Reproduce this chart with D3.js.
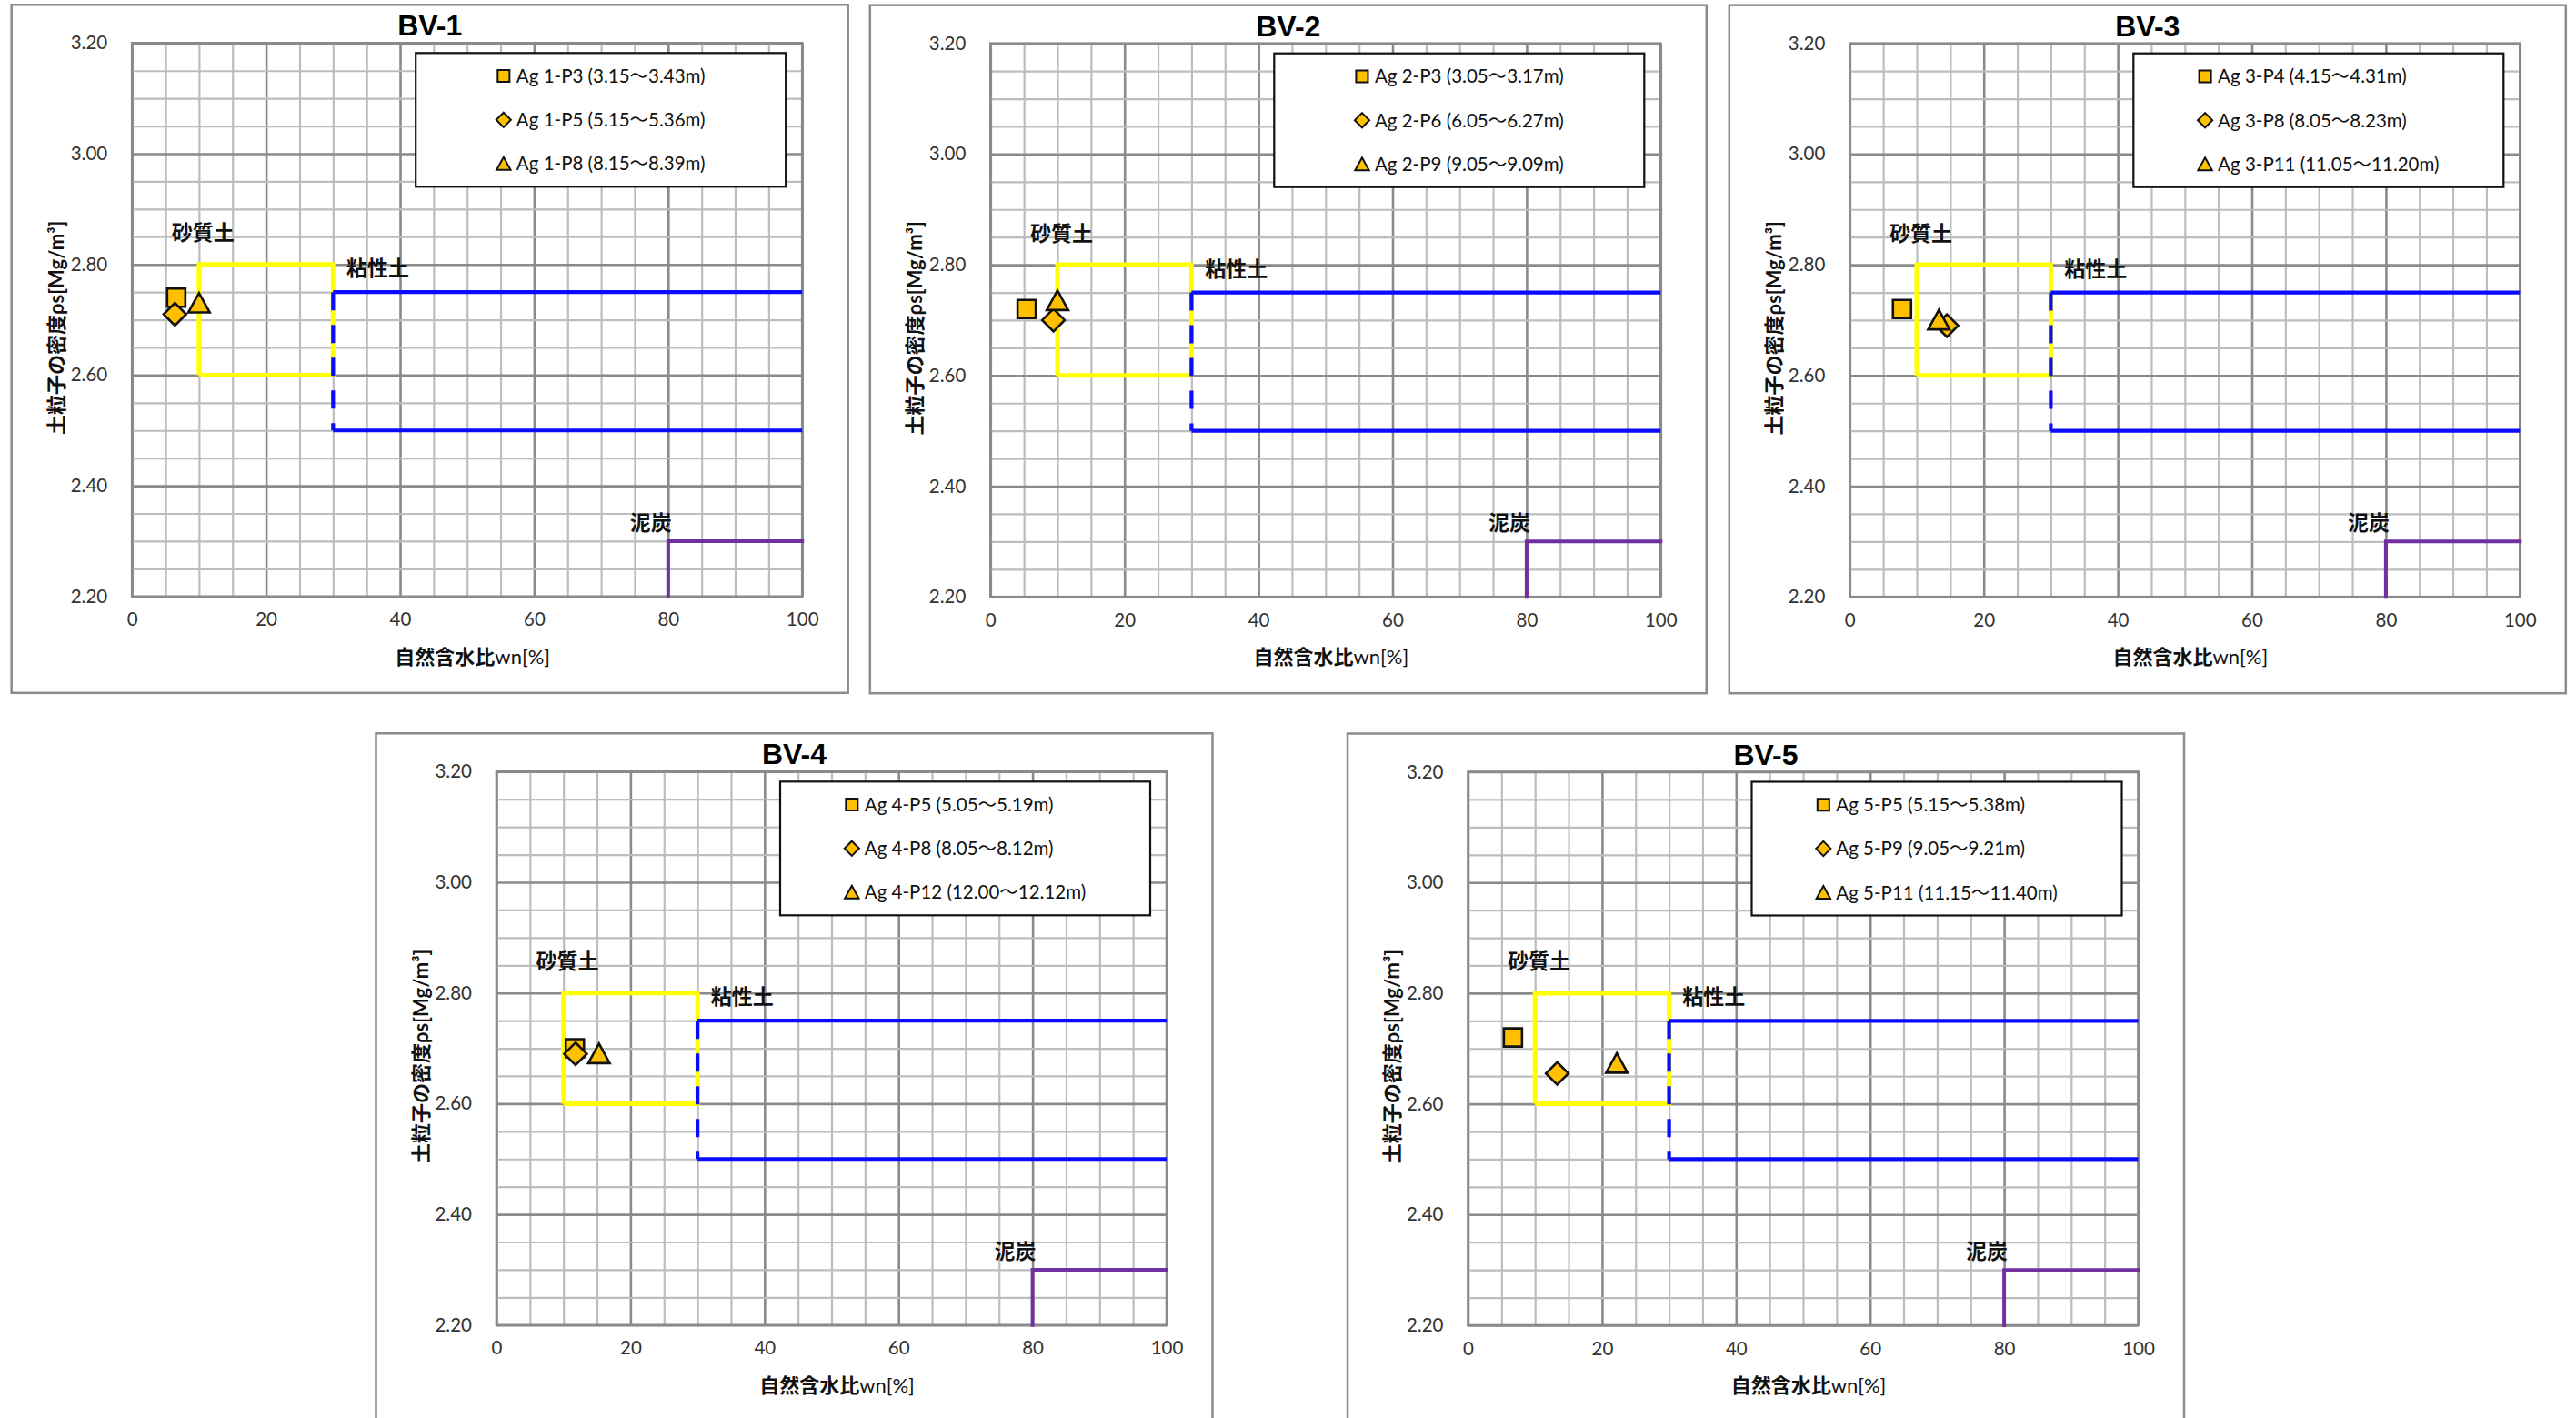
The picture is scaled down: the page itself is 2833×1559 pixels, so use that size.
<!DOCTYPE html>
<html>
<head>
<meta charset="utf-8">
<script src="https://cdn.jsdelivr.net/npm/d3@7/dist/d3.min.js"></script>
<style>
  body { margin: 0; background: #fff; }
  svg { display: block; }
</style>
</head>
<body>
<svg id="chart" width="2833" height="1559"></svg>
<script>
// ---- data ----------------------------------------------------------------
const panelTitles = ["BV-1", "BV-2", "BV-3", "BV-4", "BV-5"];

const sampleNames = [
  ["Ag 1-P3 (3.15〜3.43m)", "Ag 1-P5 (5.15〜5.36m)", "Ag 1-P8 (8.15〜8.39m)"],
  ["Ag 2-P3 (3.05〜3.17m)", "Ag 2-P6 (6.05〜6.27m)", "Ag 2-P9 (9.05〜9.09m)"],
  ["Ag 3-P4 (4.15〜4.31m)", "Ag 3-P8 (8.05〜8.23m)", "Ag 3-P11 (11.05〜11.20m)"],
  ["Ag 4-P5 (5.05〜5.19m)", "Ag 4-P8 (8.05〜8.12m)", "Ag 4-P12 (12.00〜12.12m)"],
  ["Ag 5-P5 (5.15〜5.38m)", "Ag 5-P9 (9.05〜9.21m)", "Ag 5-P11 (11.15〜11.40m)"]
];

// natural water content wn [%] per sample (square, diamond, triangle)
const waterContent = [
  [6.6, 6.4, 10.0],
  [5.4, 9.4, 10.0],
  [7.8, 14.5, 13.3],
  [11.7, 11.8, 15.3],
  [6.7, 13.3, 22.2]
];

// soil particle density ρs [Mg/m³] per sample
const particleDensity = [
  [2.74, 2.71, 2.73],
  [2.72, 2.70, 2.735],
  [2.72, 2.69, 2.70],
  [2.70, 2.69, 2.69],
  [2.72, 2.655, 2.673]
];

// classification boundaries
const sandZone   = [[10, 2.60], [10, 2.80], [30, 2.80], [30, 2.60], [10, 2.60]];
const clayUpper  = [[30, 2.75], [100, 2.75]];
const clayLower  = [[30, 2.50], [100, 2.50]];
const clayEdge   = [[30, 2.75], [30, 2.50]];
const peatZone   = [[80, 2.20], [80, 2.30], [100, 2.30]];

const zoneLabels = [
  { text: "砂質土", x: 10.6, y: 2.857, anchor: "middle" },
  { text: "粘性土", x: 32.0, y: 2.793, anchor: "start" },
  { text: "泥炭",   x: 74.3, y: 2.334, anchor: "start" }
];

const xTicks = [0, 20, 40, 60, 80, 100];
const yTicks = [2.20, 2.40, 2.60, 2.80, 3.00, 3.20];

// ---- layout --------------------------------------------------------------
const plotW = 737, plotH = 608.5;
const panelOrigins = [
  [145.2, 47.3], [1089.3, 47.7], [2034.3, 47.7],
  [546.0, 848.3], [1614.5, 848.5]
];

const markerFill = "#FFC000";
const gridMinor = "#bdbdbd", gridMajor = "#8a8a8a";
const latin = "Lato, 'Noto Sans', 'Noto Sans CJK JP', sans-serif";
const cjk = "'Noto Sans CJK JP', 'Noto Sans', sans-serif";

// marker shapes in the style of spreadsheet scatter markers
const squareType = { draw(ctx, size) { const s = Math.sqrt(size) / 2; ctx.rect(-s, -s, 2 * s, 2 * s); } };
const diamondType = { draw(ctx, size) { const s = Math.sqrt(size) * 0.62; ctx.moveTo(0, -s); ctx.lineTo(s, 0); ctx.lineTo(0, s); ctx.lineTo(-s, 0); ctx.closePath(); } };
const triangleType = { draw(ctx, size) { const s = Math.sqrt(size) / 2; ctx.moveTo(0, -1.12 * s); ctx.lineTo(s * 1.18, s * 1.02); ctx.lineTo(-s * 1.18, s * 1.02); ctx.closePath(); } };
const markerTypes = [squareType, diamondType, triangleType];

const svg = d3.select("#chart");
svg.append("rect").attr("width", 2833).attr("height", 1559).attr("fill", "#fff");

panelTitles.forEach((title, p) => {
  const [ox, oy] = panelOrigins[p];
  const x = d3.scaleLinear().domain([0, 100]).range([0, plotW]);
  const y = d3.scaleLinear().domain([2.2, 3.2]).range([plotH, 0]);

  // chart frame
  svg.append("rect")
    .attr("x", ox - 132.5).attr("y", oy - 42)
    .attr("width", 920).attr("height", 756.5)
    .attr("fill", "#fff").attr("stroke", "#8c8c8c").attr("stroke-width", 2.5);

  const g = svg.append("g").attr("transform", `translate(${ox},${oy})`);

  // title
  svg.append("text")
    .attr("x", ox - 132.5 + 460).attr("y", oy - 8)
    .attr("text-anchor", "middle")
    .attr("font-family", "'Liberation Sans', Arial, sans-serif")
    .attr("font-weight", "bold").attr("font-size", 32)
    .text(title);

  // grid lines
  const vGrid = g.append("g").attr("transform", `translate(0,${plotH})`)
    .call(d3.axisBottom(x).tickValues(d3.range(0, 101, 5)).tickSize(-plotH).tickFormat(""));
  vGrid.select(".domain").remove();
  vGrid.selectAll(".tick line")
    .attr("stroke", d => d % 20 === 0 ? gridMajor : gridMinor)
    .attr("stroke-width", d => d % 20 === 0 ? 2.6 : 2.2);

  const hGrid = g.append("g")
    .call(d3.axisLeft(y).tickValues(d3.range(0, 21).map(i => 2.2 + i * 0.05)).tickSize(-plotW).tickFormat(""));
  hGrid.select(".domain").remove();
  hGrid.selectAll(".tick line")
    .attr("stroke", d => Math.round(d * 100) % 20 === 0 ? gridMajor : gridMinor)
    .attr("stroke-width", d => Math.round(d * 100) % 20 === 0 ? 2.6 : 2.2);

  g.append("rect").attr("width", plotW).attr("height", plotH)
    .attr("fill", "none").attr("stroke", gridMajor).attr("stroke-width", 2.6);

  // tick labels
  const xAxis = g.append("g").attr("transform", `translate(0,${plotH})`)
    .call(d3.axisBottom(x).tickValues(xTicks).tickSize(0).tickPadding(18).tickFormat(d3.format("d")));
  const yAxis = g.append("g")
    .call(d3.axisLeft(y).tickValues(yTicks).tickSize(0).tickPadding(27).tickFormat(d3.format(".2f")));
  [xAxis, yAxis].forEach(a => {
    a.select(".domain").remove();
    a.selectAll("text").attr("font-family", latin).attr("font-size", 20.5).attr("fill", "#333");
  });

  // axis titles
  const xt = g.append("text")
    .attr("x", plotW / 2 + 6).attr("y", plotH + 66).attr("dy", "0.36em")
    .attr("text-anchor", "middle").attr("font-size", 22).attr("fill", "#111");
  xt.append("tspan").attr("font-family", cjk).attr("font-weight", "bold").text("自然含水比");
  xt.append("tspan").attr("font-family", latin).attr("font-weight", "normal").text("wn[%]");

  const yt = g.append("text")
    .attr("transform", `translate(-83,${313}) rotate(-90)`)
    .attr("dy", "0.36em")
    .attr("text-anchor", "middle").attr("font-size", 22).attr("fill", "#111");
  yt.append("tspan").attr("font-family", cjk).attr("font-weight", "bold").text("土粒子の密度");
  yt.append("tspan").attr("font-family", latin).attr("font-weight", "bold").text("ρs[Mg/m³]");

  // classification zones
  const line = d3.line().x(d => x(d[0])).y(d => y(d[1]));
  g.append("path").datum(sandZone).attr("d", line)
    .attr("fill", "none").attr("stroke", "#FFFF00").attr("stroke-width", 5);
  g.append("path").datum(clayUpper).attr("d", line)
    .attr("fill", "none").attr("stroke", "#0a0aff").attr("stroke-width", 4.2);
  g.append("path").datum(clayLower).attr("d", line)
    .attr("fill", "none").attr("stroke", "#0a0aff").attr("stroke-width", 4.2);
  g.append("path").datum(clayEdge).attr("d", line)
    .attr("fill", "none").attr("stroke", "#0a0aff").attr("stroke-width", 4.2)
    .attr("stroke-dasharray", "20,16");
  g.append("path").datum(peatZone).attr("d", line)
    .attr("fill", "none").attr("stroke", "#7030A0").attr("stroke-width", 4)
    .attr("stroke-linecap", "square");

  zoneLabels.forEach(l => {
    g.append("text")
      .attr("x", x(l.x)).attr("y", y(l.y)).attr("dy", "0.36em")
      .attr("text-anchor", l.anchor)
      .attr("font-family", cjk).attr("font-weight", "bold").attr("font-size", 23)
      .attr("fill", "#111").text(l.text);
  });

  // sample points
  const points = waterContent[p].map((wn, i) => ({ wn, rho: particleDensity[p][i], i }));
  g.selectAll(".pt").data(points).enter().append("path")
    .attr("class", "pt")
    .attr("transform", d => `translate(${x(d.wn)},${y(d.rho)})`)
    .attr("d", d => d3.symbol().type(markerTypes[d.i]).size(400)())
    .attr("fill", markerFill).attr("stroke", "#111").attr("stroke-width", 2.6)
    .attr("stroke-linejoin", "miter");

  // legend
  const lx = 312, ly = 11, lw = 407, lh = 147;
  const lg = g.append("g").attr("transform", `translate(${lx},${ly})`);
  lg.append("rect").attr("width", lw).attr("height", lh)
    .attr("fill", "#fff").attr("stroke", "#111").attr("stroke-width", 2.2);
  const texts = sampleNames[p].map((name, i) =>
    lg.append("text").attr("y", lh / 2 + (i - 1) * 48.3).attr("dy", "0.36em")
      .attr("font-family", latin).attr("font-size", 20.5).attr("fill", "#111").text(name));
  const maxW = d3.max(texts, t => t.node().getComputedTextLength());
  const groupW = 16 + 6 + maxW;
  const startX = lw / 2 - groupW / 2;
  texts.forEach((t, i) => {
    t.attr("x", startX + 22);
    lg.append("path")
      .attr("transform", `translate(${startX + 8},${lh / 2 + (i - 1) * 48.3})`)
      .attr("d", d3.symbol().type(markerTypes[i]).size(i === 1 ? 170 : 170)())
      .attr("fill", markerFill).attr("stroke", "#111").attr("stroke-width", 2);
  });
});
</script>
</body>
</html>
